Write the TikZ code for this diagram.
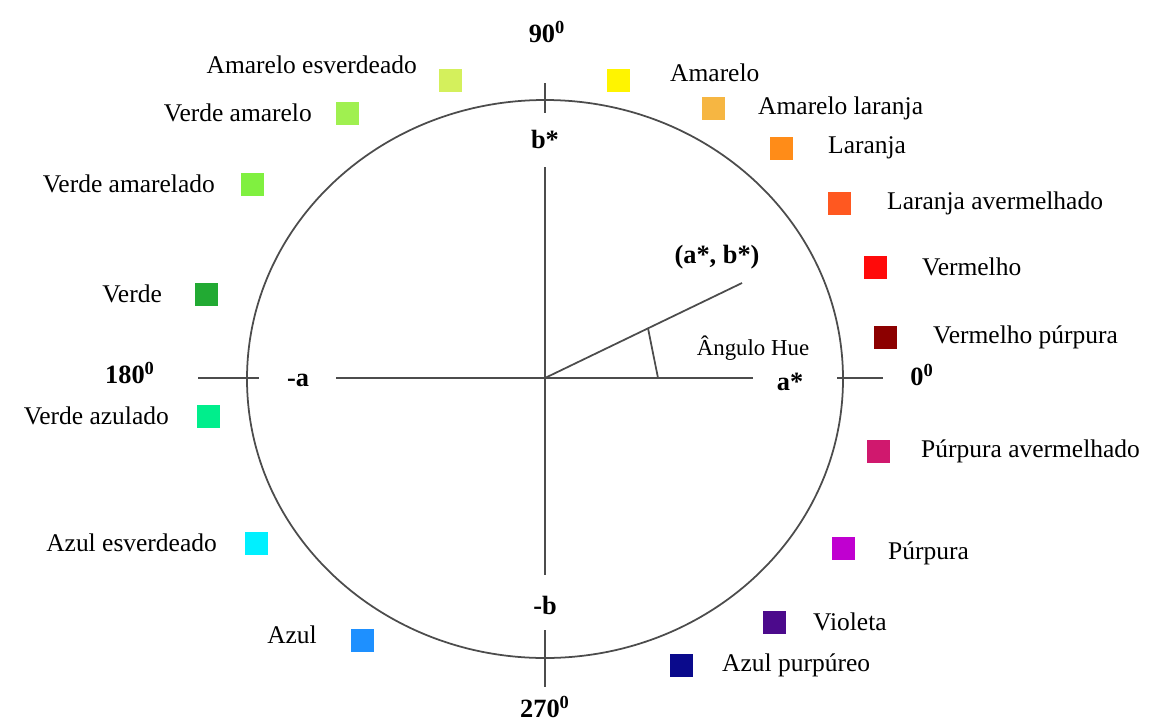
\documentclass[tikz,border=0pt]{standalone}
\usepackage{fontspec}
\setmainfont{Liberation Serif}
\usetikzlibrary{positioning,calc}

\definecolor{cAmareloEsv}{RGB}{212,240,92}
\definecolor{cAmarelo}{RGB}{255,244,0}
\definecolor{cAmareloLar}{RGB}{246,182,66}
\definecolor{cLaranja}{RGB}{255,140,24}
\definecolor{cLaranjaAv}{RGB}{255,88,32}
\definecolor{cVermelho}{RGB}{255,10,10}
\definecolor{cVermelhoPur}{RGB}{140,0,0}
\definecolor{cPurpuraAv}{RGB}{208,24,110}
\definecolor{cPurpura}{RGB}{192,0,208}
\definecolor{cVioleta}{RGB}{76,10,140}
\definecolor{cAzulPur}{RGB}{10,10,140}
\definecolor{cAzul}{RGB}{30,144,255}
\definecolor{cAzulEsv}{RGB}{0,240,255}
\definecolor{cVerdeAz}{RGB}{0,238,140}
\definecolor{cVerde}{RGB}{34,170,51}
\definecolor{cVerdeAmarelado}{RGB}{128,240,64}
\definecolor{cVerdeAmarelo}{RGB}{160,240,80}

\tikzset{
  swatch/.style={draw=none, minimum size=4.6mm, inner sep=0pt},
  colname/.style={inner sep=0pt, font=\fontsize{14.5}{17}\selectfont},
  axlabel/.style={inner sep=0pt, font=\fontsize{15}{18}\selectfont\bfseries},
  axline/.style={draw=black!70, line width=1pt},
}

\begin{document}
\begin{tikzpicture}[x=0.2mm,y=-0.2mm]
      \useasboundingbox (0,0) rectangle (1152,724);

      % circle and axes
      \coordinate (o) at (545,378);
      \draw[axline] (545,379) ellipse [x radius=298, y radius=279];

      \node[axlabel] (deg90)  at (547,32)  {90\textsuperscript{0}};
      \node[axlabel] (bstar)  at (545,139) {b*};
      \node[axlabel] (bneg)   at (545,605) {-b};
      \node[axlabel] (deg270) at (545,707) {270\textsuperscript{0}};
      \node[axlabel] (aneg)   at (298,380) {-a};
      \node[axlabel] (astar)  at (790,382) {a*};
      \node[axlabel] (deg0)   at (922,375) {0\textsuperscript{0}};
      \node[axlabel] (deg180) at (130,373) {180\textsuperscript{0}};

      \coordinate (v0) at (545,83);
      \coordinate (v1) at (545,113);
      \coordinate (v2) at (545,167);
      \coordinate (v3) at (545,575);
      \coordinate (v4) at (545,630);
      \coordinate (v5) at (545,687);
      \coordinate (h0) at (198,378);
      \coordinate (h1) at (259,378);
      \coordinate (h2) at (336,378);
      \coordinate (h3) at (753,378);
      \coordinate (h4) at (837,378);
      \coordinate (h5) at (883,378);

      \draw[axline] (v0) -- (v1);
      \draw[axline] (v2) -- (v3);
      \draw[axline] (v4) -- (v5);
      \draw[axline] (h0) -- (h1);
      \draw[axline] (h2) -- (h3);
      \draw[axline] (h4) -- (h5);

      % hue angle
      \coordinate (ab) at (742,283);
      \coordinate (hue0) at ($(o)!0.523!(ab)$);
      \coordinate (hue1) at (658,378);
      \draw[axline] (o) -- (ab);
      \draw[axline] (hue0) -- (hue1);
      \node[axlabel] (abstar) at (717,257) {(a*, b*)};
      \node[colname, font=\fontsize{13}{15}\selectfont] (huelabel) at (753,348) {Ângulo Hue};

      % colours, right side
      \node[swatch, fill=cAmarelo]     (amarelo)     at (618,80)  {};
      \node[swatch, fill=cAmareloLar]  (amarelolar)  at (713,108) {};
      \node[swatch, fill=cLaranja]     (laranja)     at (781,148) {};
      \node[swatch, fill=cLaranjaAv]   (laranjaav)   at (839,203) {};
      \node[swatch, fill=cVermelho]    (vermelho)    at (875,267) {};
      \node[swatch, fill=cVermelhoPur] (vermelhopur) at (885,337) {};
      \node[swatch, fill=cPurpuraAv]   (purpuraav)   at (878,451) {};
      \node[swatch, fill=cPurpura]     (purpura)     at (843,548) {};
      \node[swatch, fill=cVioleta]     (violeta)     at (774,622) {};
      \node[swatch, fill=cAzulPur]     (azulpur)     at (681,665) {};

      \node[colname, right=8mm of amarelo, yshift=1.4mm] (t-amarelo) {Amarelo};
      \node[colname, right=6.6mm of amarelolar]  (t-amarelolar)  {Amarelo laranja};
      \node[colname, right=7mm of laranja]       (t-laranja)     {Laranja};
      \node[colname, right=7.2mm of laranjaav]   (t-laranjaav)   {Laranja avermelhado};
      \node[colname, right=7mm of vermelho]      (t-vermelho)    {Vermelho};
      \node[colname, right=7.2mm of vermelhopur] (t-vermelhopur) {Vermelho púrpura};
      \node[colname, right=6.2mm of purpuraav]   (t-purpuraav)   {Púrpura avermelhado};
      \node[colname, right=6.6mm of purpura, yshift=-1mm] (t-purpura) {Púrpura};
      \node[colname, right=5.4mm of violeta]     (t-violeta)     {Violeta};
      \node[colname, right=5.8mm of azulpur]     (t-azulpur)     {Azul purpúreo};

      % colours, left side
      \node[swatch, fill=cAzul]            (azul)           at (362,640) {};
      \node[swatch, fill=cAzulEsv]         (azulesv)        at (256,543) {};
      \node[swatch, fill=cVerdeAz]         (verdeaz)        at (208,416) {};
      \node[swatch, fill=cVerde]           (verde)          at (206,294) {};
      \node[swatch, fill=cVerdeAmarelado]  (verdeamarelado) at (252,184) {};
      \node[swatch, fill=cVerdeAmarelo]    (verdeamarelo)   at (347,113) {};
      \node[swatch, fill=cAmareloEsv]      (amareloesv)     at (450,80)  {};

      \node[colname, left=6.6mm of azul, yshift=1mm]        (t-azul)           {Azul};
      \node[colname, left=5.4mm of azulesv]                 (t-azulesv)        {Azul esverdeado};
      \node[colname, left=5.4mm of verdeaz]                 (t-verdeaz)        {Verde azulado};
      \node[colname, left=6.4mm of verde]                   (t-verde)          {Verde};
      \node[colname, left=5mm of verdeamarelado]            (t-verdeamarelado) {Verde amarelado};
      \node[colname, left=4.6mm of verdeamarelo]            (t-verdeamarelo)   {Verde amarelo};
      \node[colname, left=4.2mm of amareloesv, yshift=3mm]  (t-amareloesv)     {Amarelo esverdeado};
\end{tikzpicture}
\end{document}
